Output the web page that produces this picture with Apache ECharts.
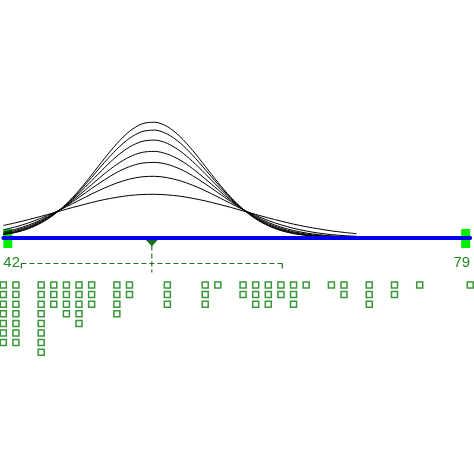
<!DOCTYPE html>
<html><head><meta charset="utf-8">
<script src="https://cdn.jsdelivr.net/npm/echarts@6/dist/echarts.min.js"></script>
<style>html,body{margin:0;padding:0;background:#fff}#c{width:474px;height:474px}</style>
</head><body><div id="c"></div>
<script>
// observed values (dot columns) and how many dots are stacked on each
const values = [42,43,45,46,47,48,49,51,52,55,58,59,61,62,63,64,65,66,68,69,71,73,75,79];
const counts = [7,7,8,3,4,5,3,4,2,3,3,1,2,3,3,2,3,1,1,2,3,2,1,1];
// axis tick labels
const tickLabels = [42, 79];
// curve sample positions and heights
const curveX = [42,43,44,45,46,47,48,49,50,51,52,53,54,55,56,57,58,59,60,61,62,63,64,65,66,67,68,69,70];
const curve1 = [2.8,5.1,8.8,14.6,22.7,33.6,47.1,62.6,78.8,93.9,106.2,113.7,115.3,110.9,101.0,87.2,71.3,55.3,40.6,28.3,18.6,11.7,6.9,3.9,2.1,1.0,0.5,0.2,0.1];
const curve2 = [3.1,5.5,9.4,15.0,23.0,33.3,45.9,60.1,74.8,88.3,99.2,105.9,107.4,103.4,94.7,82.3,68.0,53.4,39.8,28.2,19.0,12.2,7.4,4.3,2.3,1.2,0.6,0.3,0.1];
const curve3 = [3.6,6.2,10.1,15.7,23.2,32.8,44.2,56.8,69.6,81.3,90.5,96.1,97.4,94.1,86.6,76.1,63.8,50.9,38.8,28.2,19.5,12.9,8.1,4.9,2.8,1.5,0.8,0.4,0.2];
const curve4 = [4.4,7.2,11.1,16.6,23.6,32.2,42.2,52.9,63.6,73.1,80.6,85.1,86.1,83.4,77.5,68.9,58.7,47.9,37.5,28.1,20.2,13.9,9.1,5.8,3.5,2.0,1.1,0.6,0.3];
const curve5 = [5.5,8.4,12.4,17.6,24.1,31.7,40.1,49.0,57.5,65.1,70.9,74.4,75.1,73.1,68.5,61.8,53.7,44.9,36.2,28.1,21.0,15.1,10.4,7.0,4.5,2.8,1.7,1.0,0.5];
const curve6 = [7.7,10.7,14.6,19.3,24.7,30.8,37.1,43.5,49.4,54.5,58.4,60.7,61.2,59.8,56.8,52.3,46.8,40.6,34.2,27.9,22.1,17.0,12.7,9.2,6.5,4.4,2.9,1.9,1.2];
const curve7 = [12.0,14.8,17.9,21.2,24.7,28.3,31.7,35.0,37.9,40.2,42.0,43.0,43.2,42.6,41.3,39.2,36.6,33.5,30.2,26.6,23.1,19.6,16.4,13.4,10.8,8.6,6.6,5.1,3.8];

const curves = [curve1, curve2, curve3, curve4, curve5, curve6, curve7];
const n = counts.reduce((a, b) => a + b, 0);
let total = 0; values.forEach((v, i) => total += v * counts[i]);
const mean = total / n;
let ss = 0; values.forEach((v, i) => ss += counts[i] * (v - mean) * (v - mean));
const sd = Math.sqrt(ss / (n - 1));
const dots = [];
values.forEach((v, i) => { for (let k = 1; k <= counts[i]; k++) dots.push([v, k]); });

const chart = echarts.init(document.getElementById('c'), null, {renderer: 'canvas'});
const series = [];
series.push({
  type: 'custom', xAxisIndex: 0, yAxisIndex: 0, z: 1, silent: true,
  data: [[tickLabels[0], 0, 1], [tickLabels[1], 0, -1]],
  renderItem: function (params, api) {
    const p = api.coord([api.value(0), 0]);
    const dir = api.value(2);
    return {type: 'rect', shape: {x: dir > 0 ? p[0] : p[0] - 9, y: p[1] - 8.5, width: 9, height: 19},
      style: {fill: '#00ee00'}};
  }
});
curves.forEach(function (c) {
  series.push({
    type: 'line', xAxisIndex: 0, yAxisIndex: 0, z: 2, silent: true,
    data: curveX.map((x, i) => [x, c[i]]),
    showSymbol: false, symbol: 'none', smooth: 0.3,
    lineStyle: {color: '#000', width: 1}
  });
});
series.push({
  type: 'custom', xAxisIndex: 0, yAxisIndex: 0, z: 3, silent: true,
  data: [[mean, sd]],
  renderItem: function (params, api) {
    const m = api.value(0), s = api.value(1);
    const pm = api.coord([m, 0]), pl = api.coord([m - s, 0]), pr = api.coord([m + s, 0]);
    const y0 = pm[1];
    const dash = {stroke: '#236f23', lineWidth: 1.2, lineDash: [5, 3], fill: null};
    return {type: 'group', children: [
      {type: 'polygon', shape: {points: [[pm[0] - 8, y0], [pm[0] + 8, y0], [pm[0], y0 + 9]]}, style: {fill: '#1a6e1a'}},
      {type: 'line', shape: {x1: pm[0], y1: y0, x2: pm[0], y2: y0 + 35}, style: dash},
      {type: 'line', shape: {x1: pl[0], y1: y0 + 26, x2: pr[0], y2: y0 + 26}, style: dash},
      {type: 'line', shape: {x1: pl[0], y1: y0 + 26, x2: pl[0], y2: y0 + 33}, style: dash},
      {type: 'line', shape: {x1: pr[0], y1: y0 + 26, x2: pr[0], y2: y0 + 34}, style: dash}
    ]};
  }
});
series.push({
  type: 'scatter', xAxisIndex: 1, yAxisIndex: 1, silent: true,
  data: dots, symbol: 'rect', symbolSize: 6,
  itemStyle: {color: '#ffffff', borderColor: '#067d06', borderWidth: 1.5}
});

chart.setOption({
  animation: false,
  grid: [
    {left: 3.3, right: 3.8, top: 117.5, height: 120},
    {left: 3.3, right: 3.8, top: 275.4, height: 96}
  ],
  xAxis: [
    {gridIndex: 0, type: 'value', min: tickLabels[0], max: tickLabels[1], z: 10,
     axisLine: {show: true, onZero: false, lineStyle: {color: '#0000ee', width: 4}},
     axisTick: {show: false}, splitLine: {show: false},
     axisLabel: {customValues: tickLabels, margin: 18, fontFamily: 'Liberation Sans', fontSize: 15,
       color: '#1e8c1e', alignMinLabel: 'left', alignMaxLabel: 'right'}},
    {gridIndex: 1, type: 'value', min: tickLabels[0], max: tickLabels[1], show: false}
  ],
  yAxis: [
    {gridIndex: 0, type: 'value', min: 0, max: 120, show: false},
    {gridIndex: 1, type: 'value', min: 0, max: 10, inverse: true, show: false}
  ],
  series: series
});
</script></body></html>
